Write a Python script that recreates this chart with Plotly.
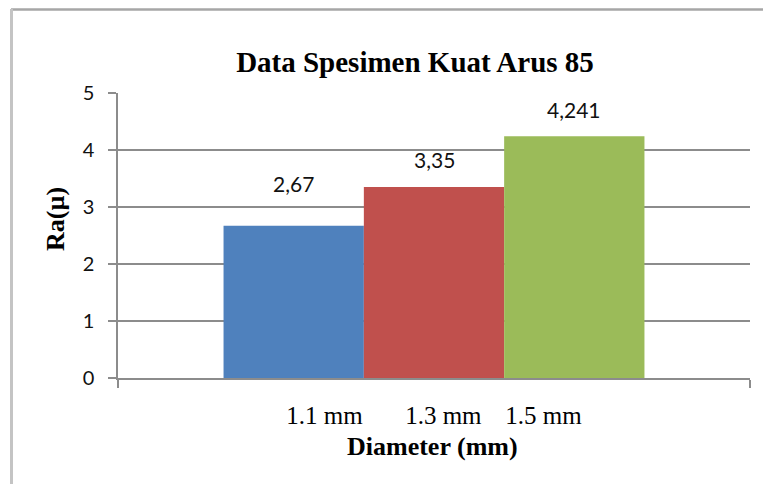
import plotly.graph_objects as go

categories = ["1.1 mm", "1.3 mm", "1.5 mm"]
ra_values = [2.67, 3.35, 4.241]
value_labels = ["2,67", "3,35", "4,241"]
bar_colors = ["#4F81BD", "#C0504D", "#9BBB59"]
y_ticks = [0, 1, 2, 3, 4, 5]

NB = "\u00a0"
TH = "\u2009"
group_label = categories[0] + NB * 6 + TH + categories[1] + NB * 3 + TH + categories[2]

W, H = 763, 484
ML, MR, MT, MB = 118, 13, 93, 106
PW, PH = W - ML - MR, H - MT - MB
BARGAP = 0.334

def px_x(px):
    return (px - ML) / PW

def px_y(py):
    return (H - MB - py) / PH

fig = go.Figure()
for name, v, c in zip(categories, ra_values, bar_colors):
    fig.add_trace(go.Bar(x=[group_label], y=[v], name=name, marker=dict(color=c, line=dict(width=0))))

# data labels (per-bar vertical offsets as in reference)
label_shift = [28, 13, 12]
n = len(categories)
bw = (1 - BARGAP) / n
for i, (v, t) in enumerate(zip(ra_values, value_labels)):
    fig.add_annotation(x=(i - (n - 1) / 2) * bw, y=v, xref="x", yref="y", text=t,
                       showarrow=False, yanchor="bottom", yshift=label_shift[i],
                       font=dict(family="Lato", size=21, color="#111111"))

fig.update_layout(
    width=W, height=H,
    margin=dict(l=ML, r=MR, t=MT, b=MB),
    paper_bgcolor="white", plot_bgcolor="white",
    barmode="group", bargap=BARGAP, bargroupgap=0,
    showlegend=False,
    title=dict(text="<b>Data Spesimen Kuat Arus 85</b>", x=415 / W, xanchor="center",
               y=1 - 62 / H, yanchor="middle",
               font=dict(family="Liberation Serif", size=29, color="#000000")),
)
fig.update_xaxes(
    type="category", tickson="boundaries", ticks="outside", ticklen=8, tickwidth=1.5,
    tickcolor="#8c8c8c", showline=True, linecolor="#8c8c8c", linewidth=1.5,
    showgrid=False, ticklabelstandoff=14,
    tickfont=dict(family="Liberation Serif", size=25, color="#000000"),
)
fig.update_yaxes(
    range=[0, 5], tickvals=y_ticks, ticks="outside", ticklen=8, tickwidth=1.5,
    tickcolor="#8c8c8c", showline=True, linecolor="#8c8c8c", linewidth=1.5,
    showgrid=True, gridcolor="#8c8c8c", gridwidth=1.5, zeroline=False,
    ticklabelstandoff=10,
    tickfont=dict(family="Lato", size=20, color="#111111"),
)

fig.add_annotation(text="<b>Diameter (mm)</b>", xref="paper", yref="paper",
                   x=px_x(432), y=px_y(446), showarrow=False, xanchor="center", yanchor="middle",
                   font=dict(family="Liberation Serif", size=26, color="#000000"))
fig.add_annotation(text="<b>Ra(µ)</b>", xref="paper", yref="paper", textangle=-90,
                   x=px_x(55), y=px_y(219), showarrow=False, xanchor="center", yanchor="middle",
                   font=dict(family="Liberation Serif", size=26, color="#000000"))

# chart frame (top and left edges visible in reference)
fig.add_shape(type="line", xref="paper", yref="paper", x0=px_x(11), x1=px_x(770),
              y0=px_y(9.5), y1=px_y(9.5), line=dict(color="#a6a6a6", width=2.5))
fig.add_shape(type="line", xref="paper", yref="paper", x0=px_x(11.5), x1=px_x(11.5),
              y0=px_y(9), y1=px_y(490), line=dict(color="#c4c4c4", width=3))

fig.write_html("out.html", config={"displayModeBar": False},
               post_script="document.body.style.margin='0';document.body.style.overflow='hidden';")
